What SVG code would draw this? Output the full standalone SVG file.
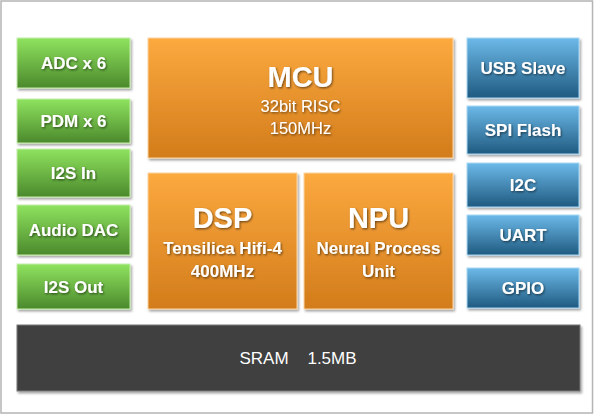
<svg xmlns="http://www.w3.org/2000/svg" width="594" height="415" viewBox="0 0 594 415">
<defs>
<linearGradient id="gG" x1="0" y1="0" x2="0" y2="1"><stop offset="0" stop-color="#8fe35f"/><stop offset="1" stop-color="#4b892c"/></linearGradient>
<linearGradient id="gO" x1="0" y1="0" x2="0" y2="1"><stop offset="0" stop-color="#fca93f"/><stop offset="1" stop-color="#d27c1b"/></linearGradient>
<linearGradient id="gB" x1="0" y1="0" x2="0" y2="1"><stop offset="0" stop-color="#6cb9e9"/><stop offset="1" stop-color="#1f5a80"/></linearGradient>
<filter id="bs" x="-10%" y="-10%" width="125%" height="130%"><feDropShadow dx="1.5" dy="2" stdDeviation="1.2" flood-color="#000" flood-opacity="0.35"/></filter>
<filter id="ts" x="-10%" y="-20%" width="120%" height="150%"><feDropShadow dx="1" dy="1.2" stdDeviation="0.8" flood-color="#000" flood-opacity="0.55"/></filter>
<style>
.g{fill:url(#gG);stroke:#c4eeaa;stroke-width:1;filter:url(#bs)}
.o{fill:url(#gO);stroke:#fcd4a0;stroke-width:1;filter:url(#bs)}
.b{fill:url(#gB);stroke:#a9d7f3;stroke-width:1;filter:url(#bs)}
.s{fill:#404040;stroke:#777;stroke-width:1;filter:url(#bs)}
text{font-family:"Liberation Sans",Arial,sans-serif;fill:#fff;text-anchor:middle}
.l{font-size:17px;font-weight:bold;filter:url(#ts)}
.t{font-size:29px;font-weight:bold;filter:url(#ts)}
.n{font-size:16.5px;filter:url(#ts)}
.m{font-size:17px;white-space:pre}
</style>
</defs>
<rect x="0" y="0" width="594" height="415" fill="#fff"/>
<rect x="1" y="1" width="591.5" height="412" fill="none" stroke="#b4b4b4" stroke-width="1.5"/>
<g id="connectors"/>
<g id="adc"><rect class="g" x="17" y="38" width="113" height="50"/><text class="l" x="73.5" y="69">ADC x 6</text></g>
<g id="pdm"><rect class="g" x="17" y="99" width="113" height="44"/><text class="l" x="73.5" y="127">PDM x 6</text></g>
<g id="i2sin"><rect class="g" x="17" y="149" width="113" height="48"/><text class="l" x="73.5" y="179">I2S In</text></g>
<g id="dac"><rect class="g" x="17" y="205" width="113" height="50"/><text class="l" x="73.5" y="236">Audio DAC</text></g>
<g id="i2sout"><rect class="g" x="17" y="264" width="113" height="45"/><text class="l" x="73.5" y="293">I2S Out</text></g>
<g id="mcu"><rect class="o" x="148" y="38" width="305" height="120"/><text class="t" x="300.5" y="87">MCU</text><text class="n" x="300.5" y="112">32bit RISC</text><text class="n" x="300.5" y="134">150MHz</text></g>
<g id="dsp"><rect class="o" x="148" y="173" width="149" height="136"/><text class="t" x="222.5" y="228">DSP</text><text class="l" x="222.5" y="254">Tensilica Hifi-4</text><text class="l" x="222.5" y="277">400MHz</text></g>
<g id="npu"><rect class="o" x="304" y="173" width="149" height="136"/><text class="t" x="378.5" y="228">NPU</text><text class="l" x="378.5" y="254">Neural Process</text><text class="l" x="378.5" y="277">Unit</text></g>
<g id="usb"><rect class="b" x="467" y="38" width="112" height="60"/><text class="l" x="523" y="74">USB Slave</text></g>
<g id="spi"><rect class="b" x="467" y="106" width="112" height="48"/><text class="l" x="523" y="136">SPI Flash</text></g>
<g id="i2c"><rect class="b" x="467" y="163" width="112" height="44"/><text class="l" x="523" y="191">I2C</text></g>
<g id="uart"><rect class="b" x="467" y="215" width="112" height="40"/><text class="l" x="523" y="241">UART</text></g>
<g id="gpio"><rect class="b" x="467" y="268" width="112" height="40"/><text class="l" x="523" y="294">GPIO</text></g>
<g id="sram"><rect class="s" x="17" y="325" width="563" height="66"/><text class="m" x="298" y="364" xml:space="preserve">SRAM    1.5MB</text></g>
</svg>
